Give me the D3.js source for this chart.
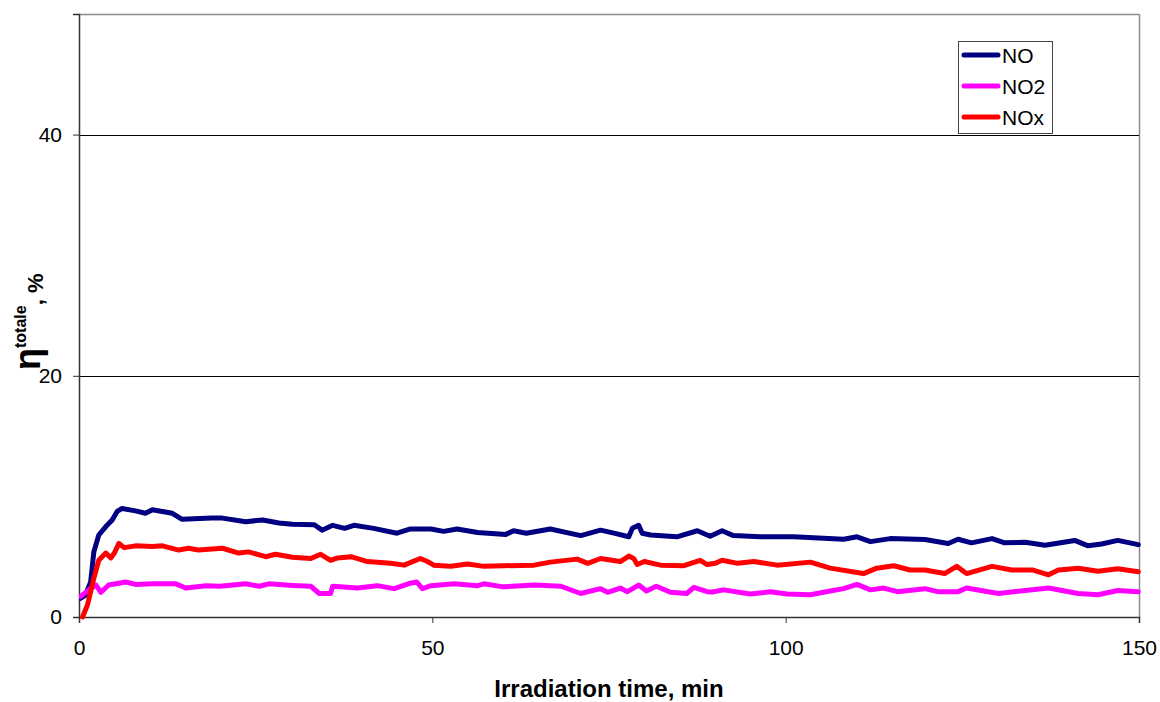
<!DOCTYPE html>
<html>
<head>
<meta charset="utf-8">
<script src="https://cdn.jsdelivr.net/npm/d3@7"></script>
<style>
  html, body { margin: 0; padding: 0; background: #fff; }
  svg { display: block; font-family: "Liberation Sans", Arial, sans-serif; }
</style>
</head>
<body>
<svg id="chart" width="1160" height="702"></svg>
<script>
// ---- Data ----
const seriesNames = ["NO", "NO2", "NOx"];
const xTicks = [0, 50, 100, 150];
const yTicks = [0, 20, 40];

const noTime = [0.2, 0.9, 1.65, 2.1, 2.8, 3.8, 4.7, 5.4, 6.1, 8, 9.4, 10.4, 13.2, 14.6, 18.8, 20.3, 23.6, 26, 28.3, 30.2,
  33.3, 34.4, 35.9, 37.6, 38.9, 41.7, 45, 46.9, 49.8, 51.6, 53.5, 56.4, 60.4, 61.5, 63.3, 66.7, 71, 73.8, 75.7, 77.8,
  78.3, 79.2, 79.7, 80.9, 84.6, 87.5, 89.3, 91, 92.6, 96.4, 101.1, 108.2, 110.1, 112, 114.8, 119.7, 123, 124.4, 126.3,
  129.2, 131, 133.9, 136.7, 140.9, 142.8, 144.7, 147, 149.9];
const noValues = [1.55, 1.8, 2.9, 5.4, 6.8, 7.5, 8.05, 8.75, 9.0, 8.8, 8.6, 8.9, 8.6, 8.1, 8.2, 8.2, 7.9, 8.05, 7.8, 7.7,
  7.65, 7.2, 7.6, 7.35, 7.6, 7.35, 6.95, 7.3, 7.3, 7.1, 7.3, 7.0, 6.85, 7.15, 6.95, 7.3, 6.75, 7.2, 6.95, 6.65,
  7.35, 7.6, 6.95, 6.8, 6.65, 7.15, 6.7, 7.15, 6.75, 6.65, 6.65, 6.45, 6.65, 6.25, 6.5, 6.42, 6.1, 6.45, 6.15,
  6.5, 6.15, 6.2, 5.95, 6.35, 5.9, 6.05, 6.35, 6.0];

const no2Time = [0.2, 1.4, 2.4, 3.1, 4.2, 6.6, 8, 10.4, 13.7, 15.1, 18, 19.9, 23.6, 25.5, 26.9, 30.2, 32.8, 34, 35.6, 35.9,
  39.4, 42.2, 44.6, 46.9, 47.8, 48.6, 49.8, 53.1, 56.4, 57.3, 60, 64.4, 68.2, 71, 73.8, 74.8, 76.6, 77.6, 79.2, 80.3,
  81.7, 83.7, 86, 87, 88.9, 89.6, 91.2, 95, 97.8, 100.2, 103.5, 106.3, 108.2, 110.1, 112, 113.9, 115.8, 119.7, 121.5,
  124.4, 125.6, 130.1, 133.9, 137.2, 141.4, 144.2, 147, 149.9];
const no2Values = [1.7, 2.25, 2.65, 2.05, 2.65, 2.9, 2.7, 2.75, 2.75, 2.4, 2.6, 2.55, 2.75, 2.55, 2.75, 2.62, 2.55, 1.95, 1.95, 2.55,
  2.4, 2.6, 2.35, 2.8, 2.9, 2.35, 2.6, 2.75, 2.6, 2.75, 2.5, 2.65, 2.55, 1.95, 2.35, 2.05, 2.4, 2.1, 2.65, 2.15,
  2.55, 2.05, 1.95, 2.45, 2.1, 2.07, 2.25, 1.9, 2.1, 1.9, 1.85, 2.15, 2.35, 2.7, 2.25, 2.4, 2.1, 2.35, 2.1,
  2.1, 2.4, 1.95, 2.2, 2.4, 1.95, 1.85, 2.2, 2.1];

const noxTime = [0.5, 1.2, 2.1, 2.8, 3.8, 4.5, 5.0, 5.65, 6.4, 8, 10.4, 11.8, 14.1, 15.5, 16.9, 20.3, 22.6, 24, 26.4, 27.8,
  30.2, 32.8, 34.2, 35.6, 36.6, 38.5, 40.8, 44.1, 46, 48.3, 49.3, 50.2, 52.6, 55, 57.3, 60, 64.4, 66.7, 70.5, 72,
  73.8, 76.6, 77.8, 78.5, 79, 80, 82.3, 85.6, 87.9, 88.9, 90, 91, 93.2, 95.5, 98.8, 103.5, 106.3, 111, 112.9, 115.3,
  117.6, 119.7, 122.5, 124.2, 125.6, 129.2, 132, 134.9, 137.2, 138.6, 141.4, 144.2, 147, 149.9];
const noxValues = [0, 1.0, 3.2, 4.7, 5.3, 4.9, 5.3, 6.1, 5.75, 5.9, 5.85, 5.9, 5.55, 5.7, 5.55, 5.7, 5.3, 5.4, 5.0, 5.2,
  4.95, 4.85, 5.2, 4.7, 4.9, 5.0, 4.6, 4.45, 4.3, 4.85, 4.6, 4.3, 4.2, 4.4, 4.2, 4.25, 4.3, 4.55, 4.8, 4.45,
  4.85, 4.6, 5.05, 4.85, 4.35, 4.6, 4.3, 4.25, 4.7, 4.35, 4.45, 4.7, 4.45, 4.6, 4.3, 4.55, 4.05, 3.6, 4.05, 4.25,
  3.9, 3.9, 3.6, 4.2, 3.6, 4.2, 3.9, 3.9, 3.5, 3.9, 4.05, 3.8, 4.0, 3.75];

const seriesColors = ["#000080", "#FF00FF", "#FF0000"];

// ---- Build ----
const series = [
  { name: seriesNames[0], t: noTime, v: noValues, color: seriesColors[0] },
  { name: seriesNames[1], t: no2Time, v: no2Values, color: seriesColors[1] },
  { name: seriesNames[2], t: noxTime, v: noxValues, color: seriesColors[2] }
];

const svg = d3.select("#chart");
const pLeft = 79, pRight = 1139, pTop = 14, pBottom = 617;
const FONT = "Liberation Sans, Arial, sans-serif";

const x = d3.scaleLinear().domain([0, 150]).range([pLeft, pRight]);
const y = d3.scaleLinear().domain([0, 50]).range([pBottom, pTop]);

// frame (top & right in gray)
svg.append("line").attr("x1", pLeft).attr("x2", pRight).attr("y1", pTop + 0.5).attr("y2", pTop + 0.5)
  .attr("stroke", "#8c8c8c").attr("stroke-width", 1.5);
svg.append("line").attr("x1", pRight + 0.5).attr("x2", pRight + 0.5).attr("y1", pTop).attr("y2", pBottom)
  .attr("stroke", "#8c8c8c").attr("stroke-width", 1.5);

// gridlines
svg.append("g").selectAll("line").data(yTicks.filter(d => d > 0)).join("line")
  .attr("x1", pLeft).attr("x2", pRight)
  .attr("y1", d => Math.round(y(d)) + 0.5).attr("y2", d => Math.round(y(d)) + 0.5)
  .attr("stroke", "#000").attr("stroke-width", 1);

// y axis
const yAxis = svg.append("g").attr("transform", `translate(${pLeft},0)`)
  .call(d3.axisLeft(y).tickValues(yTicks).tickSize(6).tickPadding(11).tickFormat(d3.format("d")));
yAxis.select(".domain").attr("stroke", "#333").attr("stroke-width", 1.5);
yAxis.selectAll(".tick line").attr("stroke", "#333");
yAxis.selectAll("text").attr("font-size", 21).attr("fill", "#000").attr("font-family", FONT);

// x axis
const xAxis = svg.append("g").attr("transform", `translate(0,${pBottom})`)
  .call(d3.axisBottom(x).tickValues(xTicks).tickSize(6).tickPadding(17).tickFormat(d3.format("d")));
xAxis.select(".domain").attr("stroke", "#333").attr("stroke-width", 1.5);
xAxis.selectAll(".tick line").attr("stroke", "#333");
xAxis.selectAll("text").attr("font-size", 21).attr("fill", "#000").attr("font-family", FONT);

// lines
const line = d3.line().x(d => x(d[0])).y(d => y(d[1]));
svg.append("clipPath").attr("id", "plotclip").append("rect")
  .attr("x", pLeft).attr("y", pTop).attr("width", pRight - pLeft + 2).attr("height", pBottom - pTop + 3);
series.forEach(s => {
  const pts = s.t.map((t, i) => [t, s.v[i]]);
  svg.append("path").datum(pts)
    .attr("d", line)
    .attr("fill", "none")
    .attr("stroke", s.color)
    .attr("stroke-width", 5)
    .attr("stroke-linejoin", "round")
    .attr("stroke-linecap", "round")
    .attr("clip-path", "url(#plotclip)");
});

// x axis title
svg.append("text")
  .attr("x", 609).attr("y", 697)
  .attr("text-anchor", "middle")
  .attr("font-size", 24).attr("font-weight", "bold").attr("font-family", FONT)
  .text("Irradiation time, min");

// y axis title
const yt = svg.append("text")
  .attr("transform", "translate(40,370) rotate(-90)")
  .attr("text-anchor", "start")
  .attr("font-weight", "bold").attr("font-family", FONT);
yt.append("tspan").attr("font-size", 36).text("η");
yt.append("tspan").attr("font-size", 16).attr("dy", -14).text("totale");
yt.append("tspan").attr("font-size", 22).attr("dy", 17).text(", %");

// legend
const lg = svg.append("g");
lg.append("rect").attr("x", 958.5).attr("y", 41.5).attr("width", 94).attr("height", 92)
  .attr("fill", "#fff").attr("stroke", "#444").attr("stroke-width", 1);
series.forEach((s, i) => {
  const yy = 55 + i * 31;
  lg.append("line").attr("x1", 964).attr("x2", 998).attr("y1", yy).attr("y2", yy)
    .attr("stroke", s.color).attr("stroke-width", 5).attr("stroke-linecap", "round");
  lg.append("text").attr("x", 1002).attr("y", yy + 7.5).attr("font-size", 21)
    .attr("fill", "#000").attr("font-family", FONT).text(s.name);
});
</script>
</body>
</html>
